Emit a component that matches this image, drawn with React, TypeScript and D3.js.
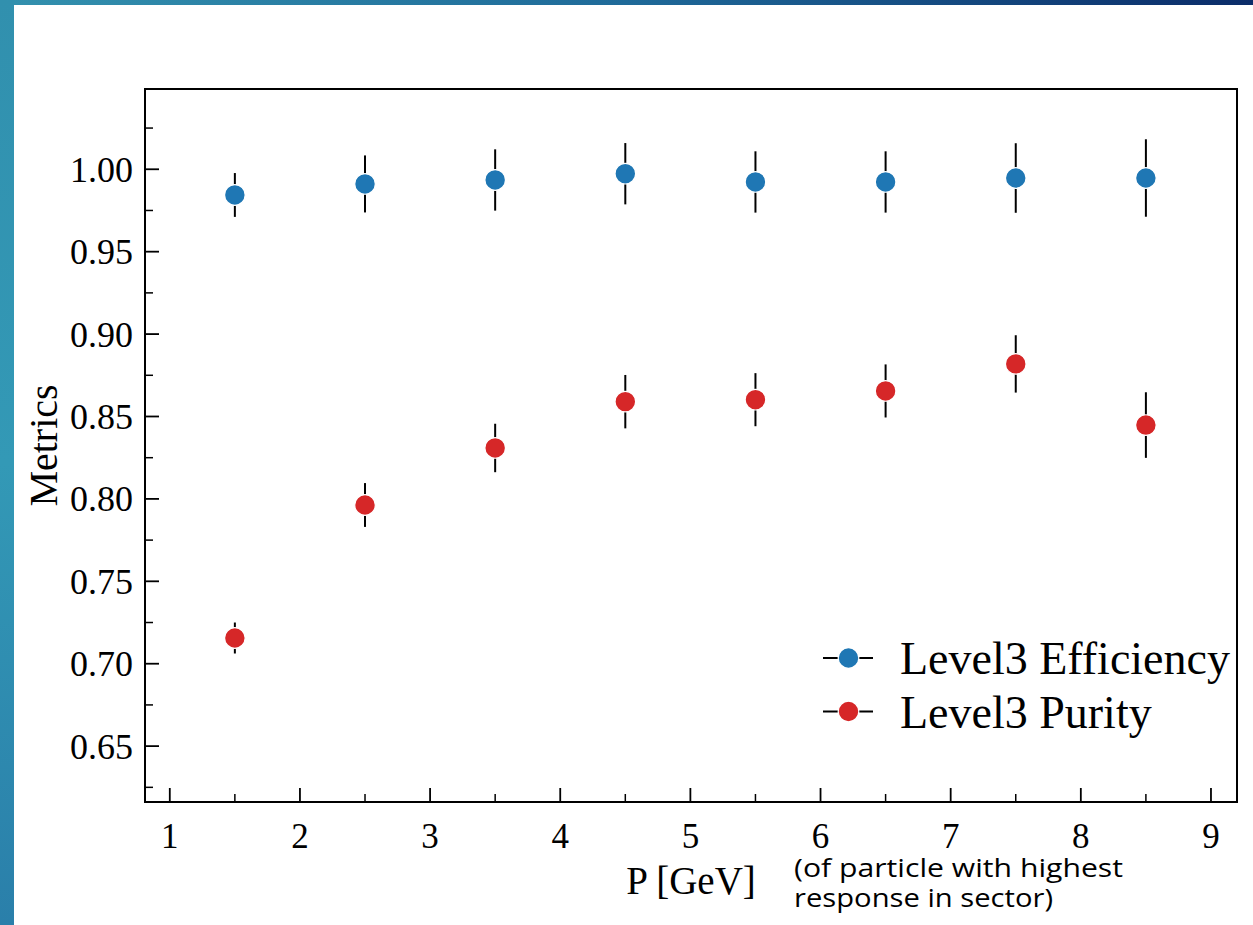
import React from "react";
import * as d3 from "d3";

const pBins = [1.5, 2.5, 3.5, 4.5, 5.5, 6.5, 7.5, 8.5];
const efficiency = [0.9844, 0.9911, 0.9935, 0.9973, 0.9923, 0.9923, 0.9947, 0.9947];
const efficiencyErr = [0.0133, 0.0173, 0.0186, 0.0186, 0.0186, 0.0186, 0.0211, 0.0235];
const purity = [0.7156, 0.7963, 0.8309, 0.859, 0.8602, 0.8655, 0.8819, 0.8448];
const purityErr = [0.0094, 0.0133, 0.0147, 0.0162, 0.0161, 0.0161, 0.0174, 0.0199];

const xMajorTicks = [1, 2, 3, 4, 5, 6, 7, 8, 9];
const xMinorTicks = [1.5, 2.5, 3.5, 4.5, 5.5, 6.5, 7.5, 8.5];
const yMajorTicks = [0.65, 0.7, 0.75, 0.8, 0.85, 0.9, 0.95, 1.0];
const yMinorTicks = [0.625, 0.675, 0.725, 0.775, 0.825, 0.875, 0.925, 0.975, 1.025];

const seriesNames = ["Level3 Efficiency", "Level3 Purity"];
const seriesColors = ["#1f77b4", "#d62728"];
const noteLines = ["(of particle with highest", "response in sector)"];

const W = 1253;
const H = 925;
const plot = { left: 145, top: 89, right: 1237, bottom: 802 };

export default function App() {
  const x = d3.scaleLinear().domain([0.8095, 9.2]).range([plot.left, plot.right]);
  const y = d3.scaleLinear().domain([0.6161, 1.0487]).range([plot.bottom, plot.top]);
  const serif = "'Liberation Serif', 'Times New Roman', serif";
  const series = [
    { vals: efficiency, errs: efficiencyErr, color: seriesColors[0] },
    { vals: purity, errs: purityErr, color: seriesColors[1] },
  ];
  return (
    <svg
      width={W}
      height={H}
      style={{ position: "absolute", left: 0, top: 0, display: "block" }}
    >
      <defs>
        <linearGradient id="topg" x1="0" y1="0" x2="1" y2="0">
          <stop offset="0" stopColor="#3391ae" />
          <stop offset="0.5" stopColor="#1f6a99" />
          <stop offset="1" stopColor="#0b2c69" />
        </linearGradient>
        <linearGradient id="leftg" x1="0" y1="0" x2="0" y2="1">
          <stop offset="0" stopColor="#3190ae" />
          <stop offset="0.5" stopColor="#3399b6" />
          <stop offset="1" stopColor="#2a7faa" />
        </linearGradient>
      </defs>
      <rect x={0} y={0} width={W} height={H} fill="#ffffff" />
      <rect x={0} y={0} width={W} height={5} fill="url(#topg)" />
      <rect x={0} y={0} width={14} height={H} fill="url(#leftg)" />

      {/* ticks */}
      {xMajorTicks.map((t) => (
        <g key={"xM" + t}>
          <line x1={x(t)} x2={x(t)} y1={plot.bottom} y2={plot.bottom - 14} stroke="#000" strokeWidth={1.8} />
          <text x={x(t)} y={848} textAnchor="middle" fontFamily={serif} fontSize={35} fill="#000">
            {t}
          </text>
        </g>
      ))}
      {xMinorTicks.map((t) => (
        <line key={"xm" + t} x1={x(t)} x2={x(t)} y1={plot.bottom} y2={plot.bottom - 8} stroke="#000" strokeWidth={1.5} />
      ))}
      {yMajorTicks.map((t) => (
        <g key={"yM" + t}>
          <line x1={plot.left} x2={plot.left + 14} y1={y(t)} y2={y(t)} stroke="#000" strokeWidth={1.8} />
          <text x={133} y={y(t) + 12.5} textAnchor="end" fontFamily={serif} fontSize={36} fill="#000">
            {t.toFixed(2)}
          </text>
        </g>
      ))}
      {yMinorTicks.map((t) => (
        <line key={"ym" + t} x1={plot.left} x2={plot.left + 8} y1={y(t)} y2={y(t)} stroke="#000" strokeWidth={1.5} />
      ))}

      {/* data */}
      {series.map((s, si) => (
        <g key={"s" + si}>
          {pBins.map((p, i) => (
            <line
              key={"e" + i}
              x1={x(p)}
              x2={x(p)}
              y1={y(s.vals[i] - s.errs[i])}
              y2={y(s.vals[i] + s.errs[i])}
              stroke="#000"
              strokeWidth={2}
            />
          ))}
          {pBins.map((p, i) => (
            <circle key={"c" + i} cx={x(p)} cy={y(s.vals[i])} r={10.3} fill={s.color} stroke="#fff" strokeWidth={1.2} />
          ))}
        </g>
      ))}

      {/* frame */}
      <rect
        x={plot.left}
        y={plot.top}
        width={plot.right - plot.left}
        height={plot.bottom - plot.top}
        fill="none"
        stroke="#000"
        strokeWidth={2}
      />

      {/* legend */}
      {seriesNames.map((name, i) => {
        const ly = 658 + i * 53.5;
        return (
          <g key={"lg" + i}>
            <line x1={823} x2={873} y1={ly} y2={ly} stroke="#000" strokeWidth={2} />
            <circle cx={848.5} cy={ly} r={10.3} fill={seriesColors[i]} stroke="#fff" strokeWidth={1.2} />
            <text x={900} y={ly + 16} fontFamily={serif} fontSize={46} fill="#000">
              {name}
            </text>
          </g>
        );
      })}

      {/* axis labels */}
      <text x={(plot.left + plot.right) / 2} y={894} textAnchor="middle" fontFamily={serif} fontSize={39} fill="#000">
        P [GeV]
      </text>
      <text
        transform={`translate(57, ${(plot.top + plot.bottom) / 2}) rotate(-90)`}
        textAnchor="middle"
        fontFamily={serif}
        fontSize={40}
        fill="#000"
      >
        Metrics
      </text>
      <text
        x={794}
        y={877}
        fontFamily="'Open Sans', sans-serif"
        fontSize={26}
        textLength={329}
        lengthAdjust="spacingAndGlyphs"
        fill="#000"
      >
        {noteLines[0]}
      </text>
      <text
        x={794}
        y={907}
        fontFamily="'Open Sans', sans-serif"
        fontSize={26}
        textLength={259}
        lengthAdjust="spacingAndGlyphs"
        fill="#000"
      >
        {noteLines[1]}
      </text>
    </svg>
  );
}
